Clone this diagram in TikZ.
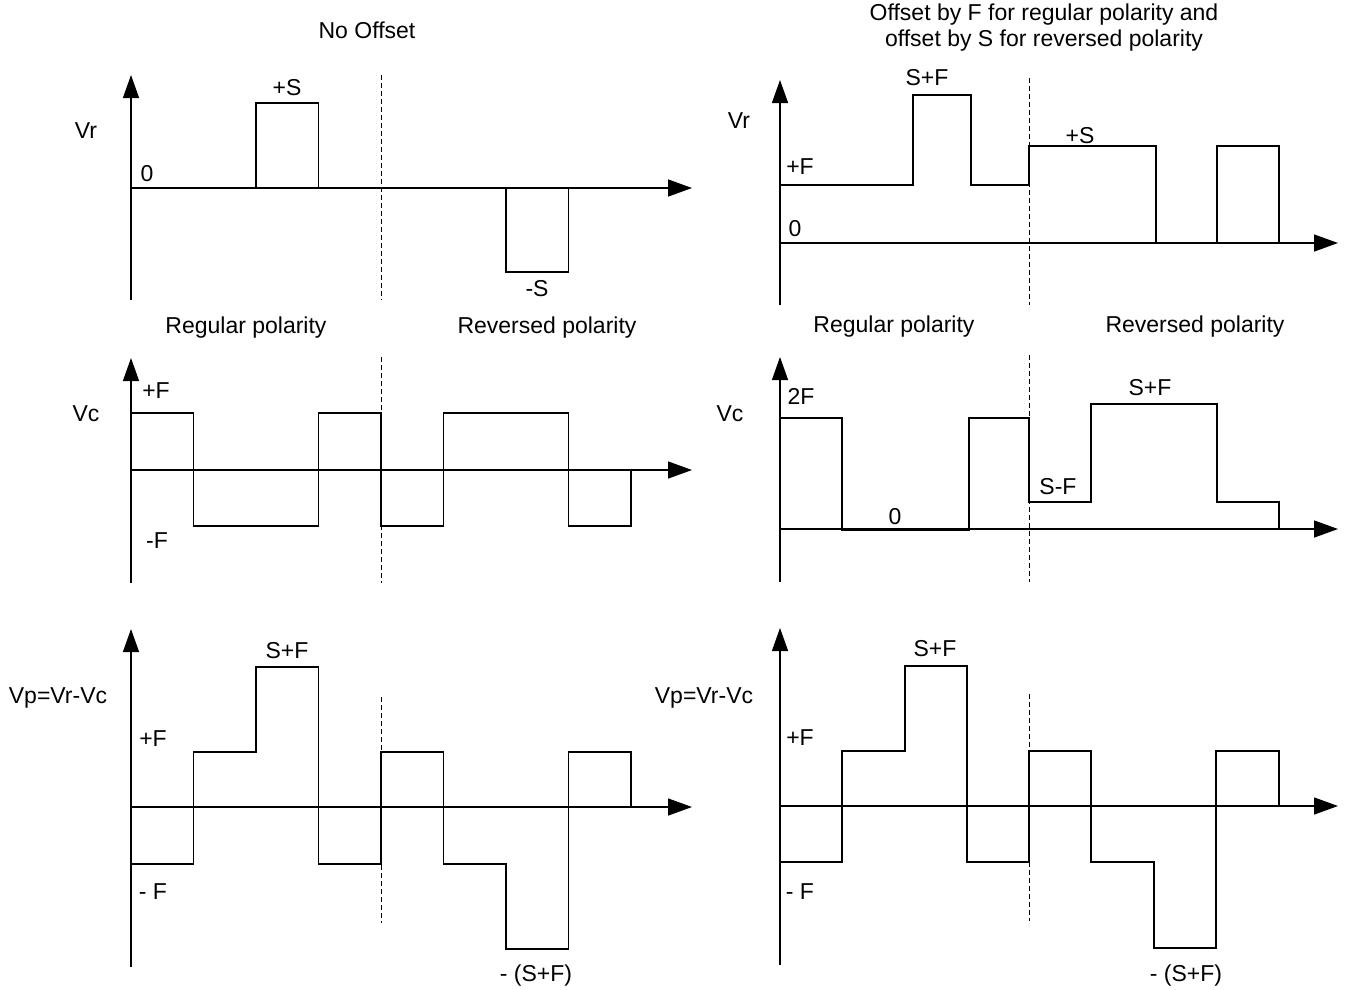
\documentclass[tikz,border=0pt]{standalone}
\usepackage{fontspec}
\setmainfont{Liberation Sans}
\usetikzlibrary{arrows.meta}
\begin{document}
\begin{tikzpicture}[x=1pt,y=-1pt,
  axis/.style={line width=1.4pt,-{Triangle[length=24pt,width=17pt]}},
  yaxis/.style={line width=1.4pt,-{Triangle[length=23pt,width=16pt]}},
  wave/.style={line width=1.2pt,line join=miter},
  split/.style={line width=0.9pt,dash pattern=on 5pt off 3pt},
  lbl/.style={inner sep=0pt,font=\fontsize{23}{26}\selectfont},
]
\useasboundingbox (0,0) rectangle (1346,989);

% ---------- left column: no offset ----------
\node[lbl] (tNo) at (367,30) {No Offset};

% Vr
\coordinate (a1o) at (131,300); \coordinate (a1t) at (131,75);
\coordinate (a1x) at (131,188); \coordinate (a1e) at (692,188);
\draw[yaxis] (a1o) -- (a1t);
\draw[axis] (a1x) -- (a1e);
\draw[split] (381,75) -- (381,300);
\draw[wave] (131,188) -- (256,188) -- (256,103) -- (318.5,103) -- (318.5,188)
  -- (506,188) -- (506,272) -- (568.5,272) -- (568.5,188);
\node[lbl] (lVr) at (86,131) {Vr};
\node[lbl] (lZ) at (147,174) {0};
\node[lbl] (lpS) at (287,88) {+S};
\node[lbl] (lmS) at (537,289) {-S};

% Vc
\node[lbl] (lReg) at (246,328) {Regular polarity};
\node[lbl] (lRev) at (547,328) {Reversed polarity};
\coordinate (a2o) at (131,583); \coordinate (a2t) at (131,358);
\coordinate (a2x) at (131,470); \coordinate (a2e) at (692,470);
\draw[yaxis] (a2o) -- (a2t);
\draw[axis] (a2x) -- (a2e);
\draw[split] (381,357) -- (381,583);
\draw[wave] (131,413) -- (193.5,413) -- (193.5,526) -- (318.5,526) -- (318.5,413)
  -- (381,413) -- (381,526) -- (443.5,526) -- (443.5,413) -- (568.5,413)
  -- (568.5,526) -- (631,526) -- (631,470);
\node[lbl] (lVc) at (86,414) {Vc};
\node[lbl] (lpF) at (156,391) {+F};
\node[lbl] (lmF) at (157,541) {-F};

% Vp
\coordinate (a3o) at (131,967); \coordinate (a3t) at (131,629);
\coordinate (a3x) at (131,807); \coordinate (a3e) at (692,807);
\draw[yaxis] (a3o) -- (a3t);
\draw[axis] (a3x) -- (a3e);
\draw[split] (381,697) -- (381,923);
\draw[wave] (131,864) -- (193.5,864) -- (193.5,752) -- (256,752) -- (256,667)
  -- (318.5,667) -- (318.5,864) -- (381,864) -- (381,752) -- (443.5,752)
  -- (443.5,864) -- (506,864) -- (506,949) -- (568.5,949) -- (568.5,752)
  -- (631,752) -- (631,807);
\node[lbl] (lVp) at (58,698) {Vp=Vr-Vc};
\node[lbl] (lSF) at (287,651) {S+F};
\node[lbl] (lpF3) at (153,739) {+F};
\node[lbl] (lmF3) at (153,892) {- F};
\node[lbl] (lmSF) at (536,976) {- (S+F)};

% ---------- right column: offset ----------
\node[lbl,align=center] (tOff) at (1044,28)
  {Offset by F for regular polarity and\\offset by S for reversed polarity};

% Vr
\coordinate (b1o) at (780,305); \coordinate (b1t) at (780,80);
\coordinate (b1x) at (780,243); \coordinate (b1e) at (1338,243);
\draw[yaxis] (b1o) -- (b1t);
\draw[axis] (b1x) -- (b1e);
\draw[split] (1029,78) -- (1029,305);
\draw[wave] (780,185) -- (913,185) -- (913,95) -- (971,95) -- (971,185)
  -- (1029,185) -- (1029,146) -- (1156,146) -- (1156,243) -- (1217,243)
  -- (1217,146) -- (1279,146) -- (1279,243);
\node[lbl] (rVr) at (739,121) {Vr};
\node[lbl] (rSF) at (927,78) {S+F};
\node[lbl] (rpS) at (1080,136) {+S};
\node[lbl] (rpF) at (800,167) {+F};
\node[lbl] (rZ) at (795,229) {0};

% Vc
\node[lbl] (rReg) at (894,327) {Regular polarity};
\node[lbl] (rRev) at (1195,327) {Reversed polarity};
\coordinate (b2o) at (780,582); \coordinate (b2t) at (780,357);
\coordinate (b2x) at (780,529); \coordinate (b2e) at (1338,529);
\draw[yaxis] (b2o) -- (b2t);
\draw[axis] (b2x) -- (b2e);
\draw[split] (1029,355) -- (1029,582);
\draw[wave] (780,418) -- (842,418) -- (842,530.5) -- (969,530.5) -- (969,418)
  -- (1029,418) -- (1029,502) -- (1091,502) -- (1091,404) -- (1217,404)
  -- (1217,502) -- (1279,502) -- (1279,529);
\node[lbl] (rVc) at (730,414) {Vc};
\node[lbl] (r2F) at (801,396) {2F};
\node[lbl] (rZc) at (895,517) {0};
\node[lbl] (rSmF) at (1058,487) {S-F};
\node[lbl] (rSpF) at (1150,388) {S+F};

% Vp
\coordinate (b3o) at (780,965); \coordinate (b3t) at (780,628);
\coordinate (b3x) at (780,806); \coordinate (b3e) at (1338,806);
\draw[yaxis] (b3o) -- (b3t);
\draw[axis] (b3x) -- (b3e);
\draw[split] (1029,694) -- (1029,921);
\draw[wave] (780,862) -- (842,862) -- (842,751) -- (905,751) -- (905,666)
  -- (967,666) -- (967,862) -- (1029,862) -- (1029,751) -- (1091,751)
  -- (1091,862) -- (1154,862) -- (1154,948) -- (1216,948) -- (1216,751)
  -- (1279,751) -- (1279,806);
\node[lbl] (rVp) at (704,698) {Vp=Vr-Vc};
\node[lbl] (rSF3) at (935,649) {S+F};
\node[lbl] (rpF3) at (800,738) {+F};
\node[lbl] (rmF3) at (800,892) {- F};
\node[lbl] (rmSF) at (1186,976) {- (S+F)};
\end{tikzpicture}
\end{document}
